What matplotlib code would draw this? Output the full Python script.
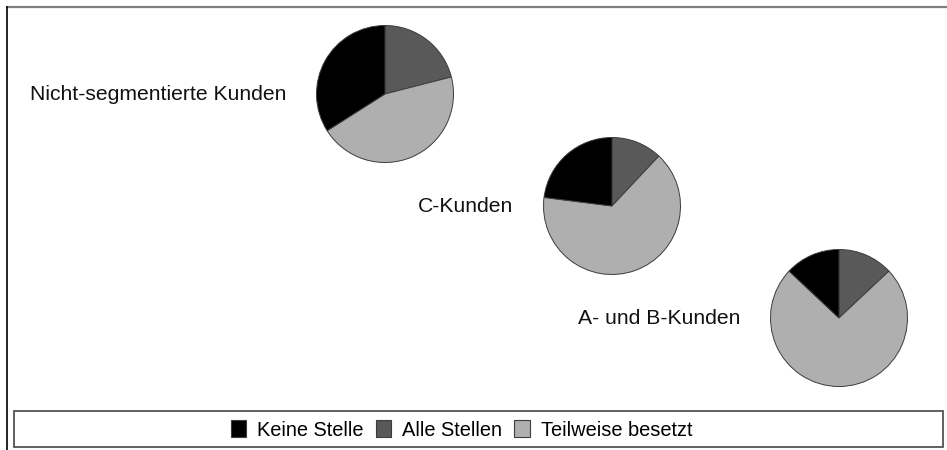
import matplotlib
matplotlib.use("Agg")
import matplotlib.pyplot as plt
from matplotlib.patches import Patch, Rectangle
from matplotlib.lines import Line2D

plt.rcParams['font.family'] = ['Liberation Sans', 'DejaVu Sans']

# Daten (Anteile in %)
kategorien = ["Keine Stelle", "Alle Stellen", "Teilweise besetzt"]
gruppen = ["Nicht-segmentierte Kunden", "C-Kunden", "A- und B-Kunden"]
keine_stelle = [34, 23, 13]
alle_stellen = [21, 12, 13]
teilweise = [45, 65, 74]

farben = {"Keine Stelle": "#000000", "Alle Stellen": "#595959", "Teilweise besetzt": "#afafaf"}

W, H = 947, 450
fig = plt.figure(figsize=(W / 100, H / 100), dpi=100)
ax = fig.add_axes([0, 0, 1, 1])

# Mittelpunkte der Kreise (Bildkoordinaten, y nach unten)
zentren = [(385, 94), (612, 206), (839, 318)]
radius = 68.5

for i, (cx, cy) in enumerate(zentren):
    werte = [alle_stellen[i], teilweise[i], keine_stelle[i]]
    cols = [farben["Alle Stellen"], farben["Teilweise besetzt"], farben["Keine Stelle"]]
    ax.pie(werte, colors=cols, startangle=90, counterclock=False,
           center=(cx, H - cy), radius=radius, frame=True,
           wedgeprops=dict(edgecolor="#3c3c3c", linewidth=0.7))
    ax.text(cx - 99, H - cy - 5.5, gruppen[i], ha="right", va="baseline",
            fontsize=15.2, color="#111111")

ax.set_xlim(0, W)
ax.set_ylim(0, H)
ax.set_aspect("equal")
ax.axis("off")

# Rahmen oben und links
fig.add_artist(Line2D([7 / W, 1], [1 - 7 / H, 1 - 7 / H], color="#808080", lw=1.6))
fig.add_artist(Line2D([7 / W, 7 / W], [0, 1 - 7 / H], color="#000000", lw=1.2))

# Legendenkasten
fig.add_artist(Rectangle((14 / W, 1 - 447 / H), (943 - 14) / W, (447 - 411) / H,
                         transform=fig.transFigure, fill=False,
                         edgecolor="#444444", lw=1.2))
handles = [Patch(facecolor=farben[k], edgecolor="#3c3c3c", lw=0.8) for k in kategorien]
fig.legend(handles, kategorien, loc="center", bbox_to_anchor=(461.5 / W, 1 - 430 / H),
           ncol=3, frameon=False, fontsize=14.4, handlelength=0.78, handleheight=0.9,
           handletextpad=0.55, columnspacing=0.6, borderpad=0, borderaxespad=0)

fig.savefig("out.png", dpi=100)
